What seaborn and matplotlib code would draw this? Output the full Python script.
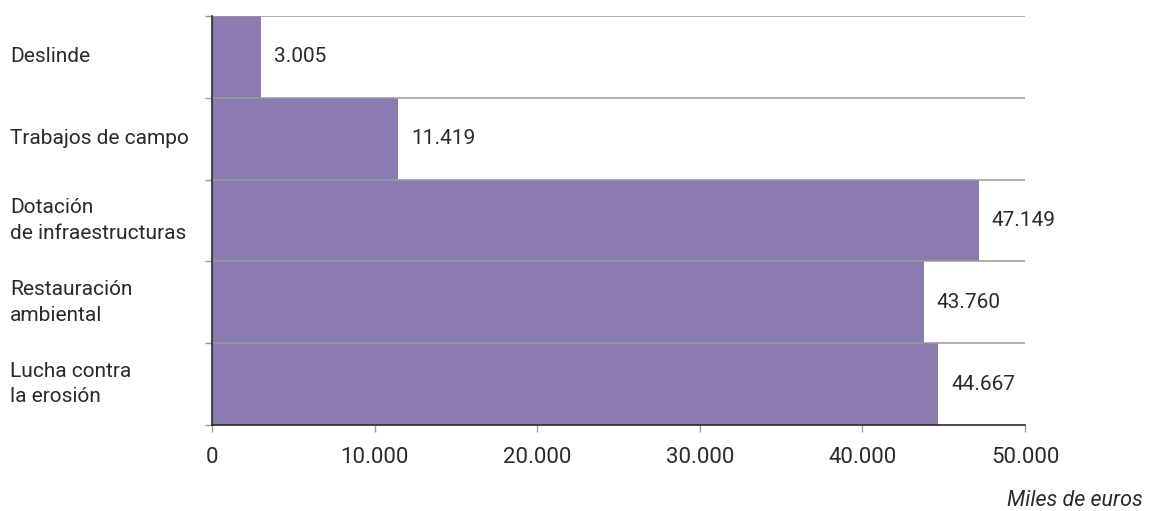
import matplotlib
matplotlib.use("Agg")
import matplotlib.pyplot as plt
import matplotlib.transforms as mtransforms
from matplotlib.ticker import FixedLocator, FuncFormatter
import seaborn as sns
import pandas as pd

categories = ["Deslinde", "Trabajos de campo", "Dotación\nde infraestructuras",
              "Restauración\nambiental", "Lucha contra\nla erosión"]
values = [3005, 11419, 47149, 43760, 44667]
x_ticks = [0, 10000, 20000, 30000, 40000, 50000]
unit_label = "Miles de euros"

BAR = "#8b7bb0"
GRID = "#9a9a9a"
DARK = "#2a2a2a"
FONT = "Roboto"

sns.set_theme(style="white")
plt.rcParams["font.family"] = [FONT, "DejaVu Sans"]

df = pd.DataFrame({"cat": categories, "val": values})

fig = plt.figure(figsize=(11.54, 5.11), dpi=100)
ax = fig.add_axes([212 / 1154, 1 - 425 / 511, (1025 - 212) / 1154, (425 - 16) / 511])

sns.barplot(data=df, x="val", y="cat", orient="h", color=BAR, width=1.0,
            saturation=1.0, ax=ax, edgecolor="none", linewidth=0)

ax.set_xlim(0, 50000)
ax.set_ylim(len(categories) - 0.5, -0.5)

# separators between categories
bounds = [i - 0.5 for i in range(len(categories) + 1)]
for b in bounds[:-1]:
    ax.axhline(b, color=GRID, lw=1.1, zorder=3)
ax.yaxis.set_major_locator(FixedLocator(bounds))
ax.set_yticklabels([])
ax.tick_params(axis="y", length=5, width=1, color=GRID, direction="out", left=True)

ax.xaxis.set_major_locator(FixedLocator(x_ticks))
ax.xaxis.set_major_formatter(FuncFormatter(lambda v, p: f"{int(v):,}".replace(",", ".")))
ax.tick_params(axis="x", length=5, width=1, color=GRID, direction="out", bottom=True,
               labelsize=16, labelcolor=DARK, pad=11)

for s in ["top", "right"]:
    ax.spines[s].set_visible(False)
for s in ["left", "bottom"]:
    ax.spines[s].set_color(DARK)
    ax.spines[s].set_linewidth(1.2)
    ax.spines[s].set_zorder(4)
ax.set_xlabel("")
ax.set_ylabel("")

# category labels, left aligned at the figure edge
trans = mtransforms.blended_transform_factory(fig.transFigure, ax.transData)
for i, c in enumerate(categories):
    ax.text(10 / 1154, i, c, transform=trans, ha="left", va="center",
            fontsize=15, color=DARK, linespacing=1.45)

# value labels after each bar
for i, v in enumerate(values):
    ax.annotate(f"{v:,}".replace(",", "."), xy=(v, i), xytext=(9.5, 0),
                textcoords="offset points", ha="left", va="center",
                fontsize=15, color=DARK)

fig.text(1143 / 1154, 1 - 500 / 511, unit_label, ha="right", va="center",
         fontsize=15.5, style="italic", color=DARK)

fig.savefig("out.png", dpi=100, facecolor="white")
